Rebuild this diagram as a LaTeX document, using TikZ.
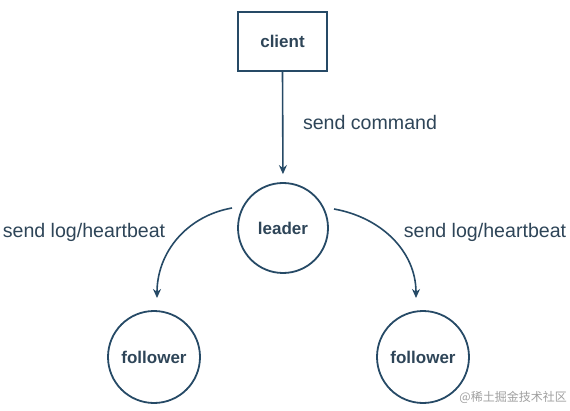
\documentclass[tikz,border=0pt]{standalone}
\usepackage{fontspec}
\setmainfont{Liberation Sans}
\newfontfamily\cjk{Noto Sans CJK SC}
\usetikzlibrary{arrows.meta}
\definecolor{ink}{HTML}{264A66}
\definecolor{txt}{HTML}{2E4558}
\begin{document}
\begin{tikzpicture}[x=1pt,y=1pt,
  box/.style={draw=ink,line width=1.8pt,minimum width=89pt,minimum height=59pt,inner sep=0pt,font=\fontsize{17}{20}\selectfont\bfseries,text=txt},
  nodecirc/.style={draw=ink,line width=1.8pt,circle,inner sep=0pt,font=\fontsize{17}{20}\selectfont\bfseries,text=txt},
  lbl/.style={font=\fontsize{19.6}{23}\selectfont,text=txt,inner sep=0pt},
  arr/.style={draw=ink,line width=1.6pt,-{Stealth[length=9pt,width=8pt]}}]
\useasboundingbox (0,0) rectangle (570,410);
\node[box] (client) at (282.5,368.5) {client};
\node[nodecirc,minimum size=90pt] (leader) at (283,182) {leader};
\node[nodecirc,minimum size=92pt] (fl) at (154,53) {follower};
\node[nodecirc,minimum size=92pt] (fr) at (423,53) {follower};
\node[lbl] (lcmd) at (370,288) {send command};
\node[lbl] (lleft) at (84,178) {send log/heartbeat};
\node[lbl] (lright) at (485,178) {send log/heartbeat};
\node[font=\cjk\fontsize{12}{14}\selectfont,text=gray!75,inner sep=0pt,anchor=east] (wm) at (567,13) {@稀土掘金技术社区};
\coordinate (ls) at (232,202);
\coordinate (le) at (157,112);
\coordinate (rs) at (334,201);
\coordinate (re) at (416,112);
\draw[arr,shorten >=8pt] (client.south) -- (leader.north);
\draw[arr] (ls) to[out=190,in=90] (le);
\draw[arr] (rs) to[out=-10,in=90] (re);
\end{tikzpicture}
\end{document}
